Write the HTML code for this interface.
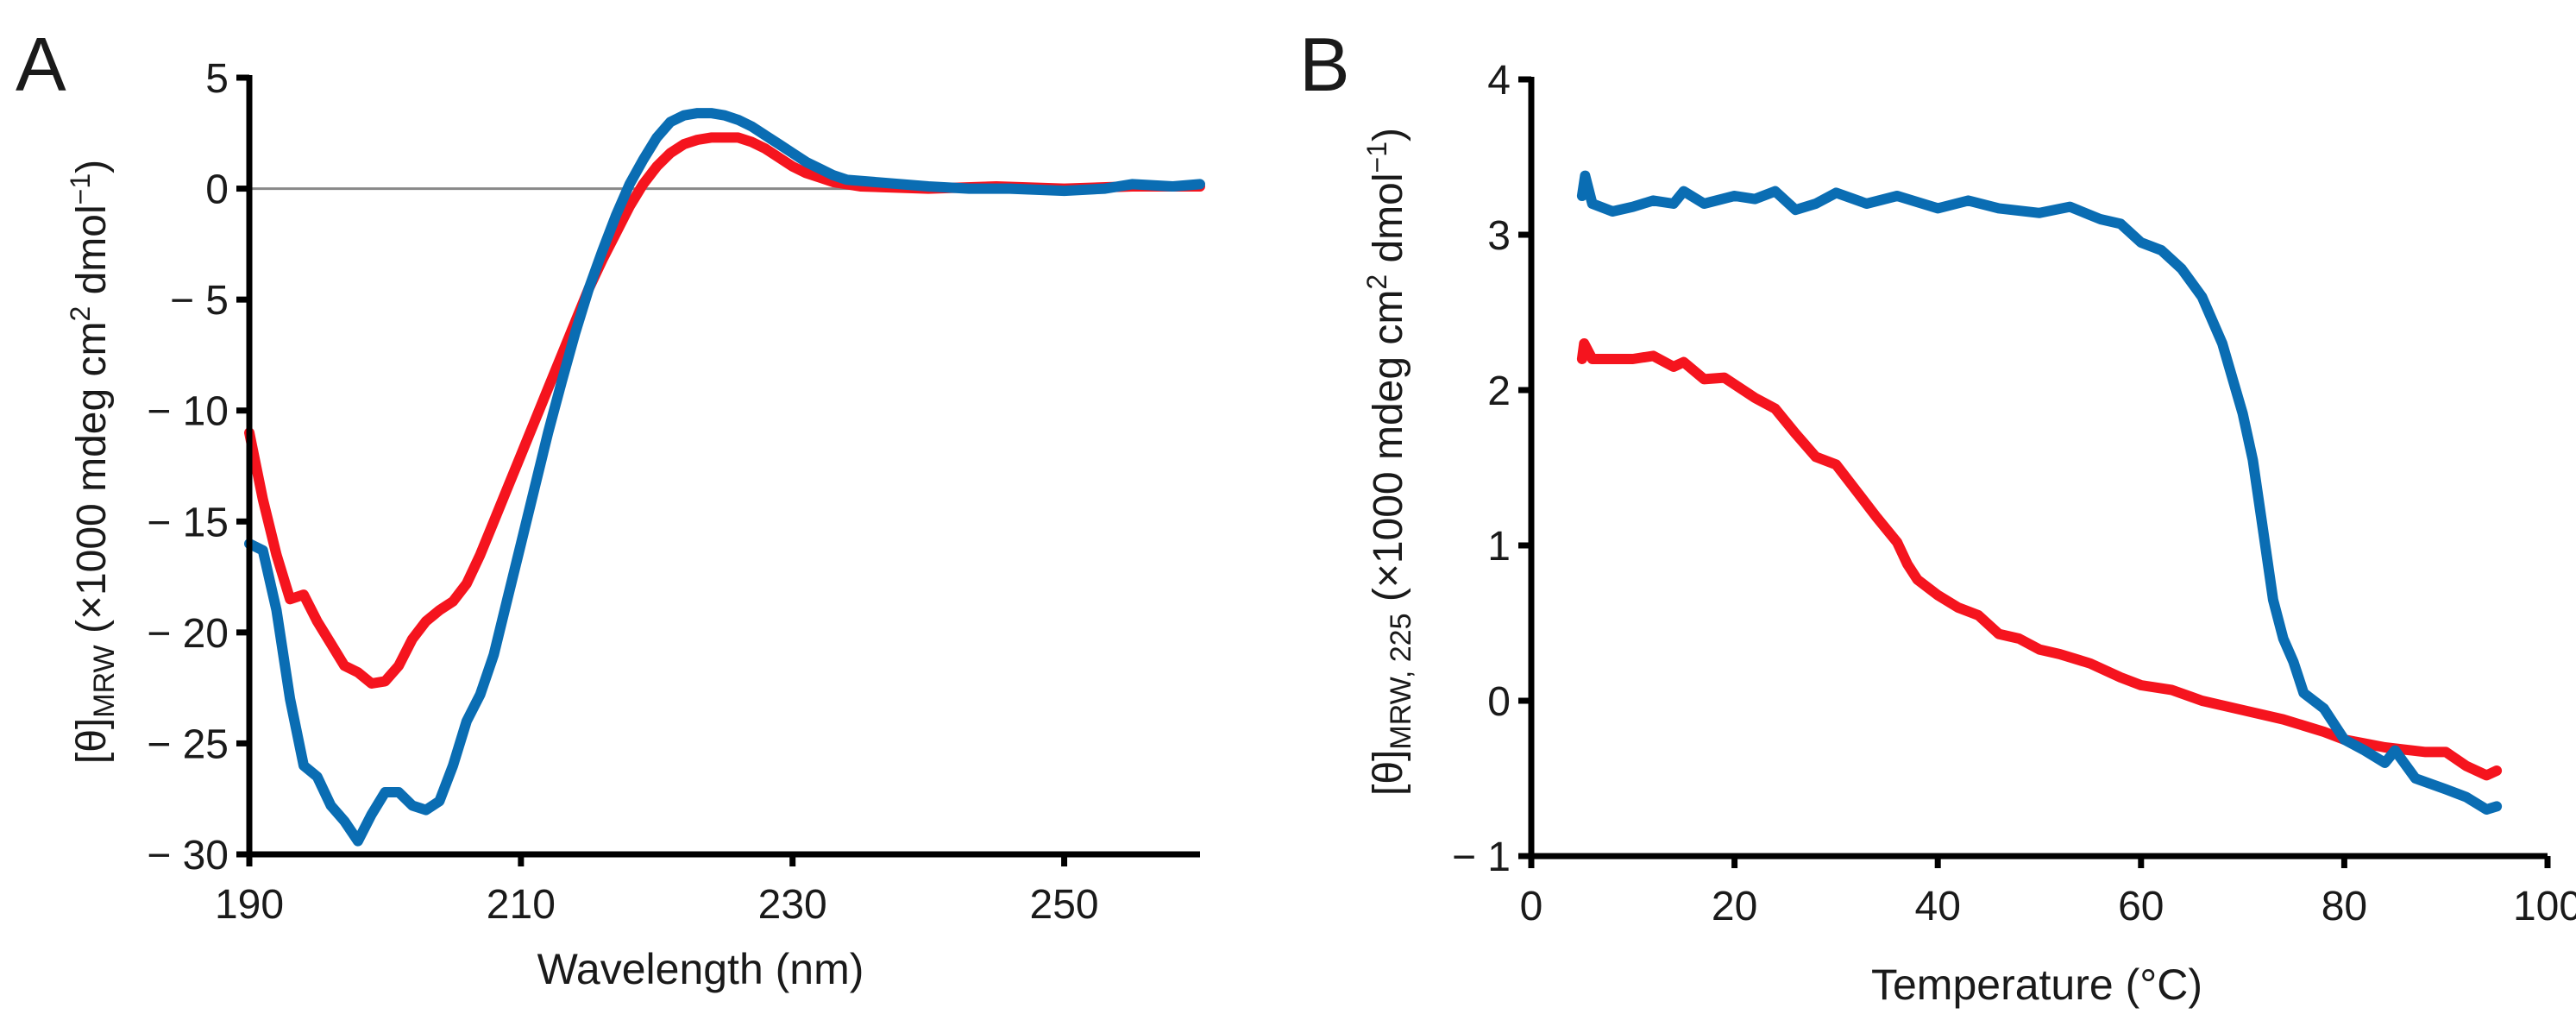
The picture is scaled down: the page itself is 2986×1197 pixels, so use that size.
<!DOCTYPE html>
<html><head><meta charset="utf-8"><style>
html,body{margin:0;padding:0;background:#fff}
svg{display:block}
text{font-family:"Liberation Sans",Arial,sans-serif;fill:#1a1a1a}
</style></head><body>
<svg id="fig" width="2986" height="1197" viewBox="0 0 2986 1197" xmlns="http://www.w3.org/2000/svg">
<text x="18" y="105" font-size="88">A</text>
<text x="1506" y="105" font-size="88">B</text>
<g id="gA"></g>
<g id="gB"></g>
</svg>
<script>
const aWave=[190,191,192,193,194,195,196,197,198,199,200,201,202,203,204,205,206,207,208,209,210,211,212,213,214,215,216,217,218,219,220,221,222,223,224,225,226,227,228,229,230,231,232,233,235,240,245,250,255,260];
const aRed=[-11,-14,-16.5,-18.5,-18.3,-19.5,-20.5,-21.5,-21.8,-22.3,-22.2,-21.5,-20.3,-19.5,-19,-18.6,-17.8,-16.5,-15,-13.5,-12,-10.5,-9,-7.5,-6,-4.5,-3.2,-2,-0.8,0.2,1,1.6,2,2.2,2.3,2.3,2.3,2.1,1.8,1.4,1.0,0.7,0.5,0.3,0.1,0,0.1,0,0.1,0.1];
const aBlueWave=[190,191,192,193,194,195,196,197,198,199,200,201,202,203,204,205,206,207,208,209,210,211,212,213,214,215,216,217,218,219,220,221,222,223,224,225,226,227,228,229,230,231,232,233,234,236,240,243,246,250,253,255,258,260];
const aBlue=[-16,-16.3,-19,-23,-26,-26.5,-27.8,-28.5,-29.4,-28.2,-27.2,-27.2,-27.8,-28,-27.6,-26,-24,-22.8,-21,-18.5,-16,-13.5,-11,-8.7,-6.5,-4.5,-2.8,-1.2,0.2,1.3,2.3,3,3.3,3.4,3.4,3.3,3.1,2.8,2.4,2,1.6,1.2,0.9,0.6,0.4,0.3,0.1,0,0,-0.1,0,0.2,0.1,0.2];
const aXTicks=[190,210,230,250];
const aYTicks=[5,0,-5,-10,-15,-20,-25,-30];
const bRedT=[5,5.2,6,10,12,14,15,17,19,22,24,26,28,30,32,34,36,37,38,40,42,44,46,48,50,52,55,58,60,63,66,70,74,78,80,84,88,90,92,94,95];
const bRed=[2.2,2.3,2.2,2.2,2.22,2.15,2.18,2.07,2.08,1.95,1.88,1.72,1.57,1.52,1.35,1.18,1.02,0.88,0.78,0.68,0.6,0.55,0.43,0.4,0.33,0.3,0.24,0.15,0.1,0.07,0,-0.06,-0.12,-0.2,-0.25,-0.3,-0.33,-0.33,-0.42,-0.48,-0.45];
const bBlueT=[5,5.3,6,8,10,12,14,15,17,20,22,24,26,28,30,33,36,40,43,46,50,53,56,58,60,62,64,66,68,70,71,72,73,74,75,76,78,79,80,82,84,85,87,90,92,94,95];
const bBlue=[3.25,3.38,3.2,3.15,3.18,3.22,3.2,3.28,3.2,3.25,3.23,3.28,3.16,3.2,3.27,3.2,3.25,3.17,3.22,3.17,3.14,3.18,3.1,3.07,2.95,2.9,2.78,2.6,2.3,1.85,1.55,1.1,0.65,0.4,0.25,0.05,-0.05,-0.15,-0.25,-0.32,-0.4,-0.32,-0.5,-0.57,-0.62,-0.7,-0.68];
const bXTicks=[0,20,40,60,80,100];
const bYTicks=[4,3,2,1,0,-1];
const NS="http://www.w3.org/2000/svg";
function mk(parent,tag,attrs,txt){const e=document.createElementNS(NS,tag);for(const k in attrs)e.setAttribute(k,attrs[k]);if(txt!==undefined)e.textContent=txt;parent.appendChild(e);return e;}
function fmt(v){return v<0?"\u2212"+Math.abs(v):String(v);}
function chart(g,cfg){
  const X=v=>cfg.x0+(v-cfg.xmin)/(cfg.xmax-cfg.xmin)*(cfg.x1-cfg.x0);
  const Y=v=>cfg.y0+(v-cfg.ymin)/(cfg.ymax-cfg.ymin)*(cfg.y1-cfg.y0);
  if(cfg.zero){const z=mk(g,'line',{x1:X(cfg.xmin),x2:X(cfg.xmax),y1:Y(0),y2:Y(0),stroke:'#888',"stroke-width":3});
    
    }
  cfg.series.forEach(s=>{
    const d=s.xs.map((x,i)=>(i?'L':'M')+X(x).toFixed(1)+','+Y(s.ys[i]).toFixed(1)).join('');
    const p=mk(g,'path',{d:d,fill:'none',stroke:s.color,"stroke-width":12,"stroke-linejoin":"round","stroke-linecap":"round"});
    
    
  });
  const ya=mk(g,'line',{x1:cfg.x0,x2:cfg.x0,y1:Y(cfg.ymax)-3,y2:Y(cfg.ymin)+3,stroke:'#000',"stroke-width":7});
  
  
  const xa=mk(g,'line',{x1:cfg.x0-15,x2:cfg.x1,y1:cfg.y0,y2:cfg.y0,stroke:'#000',"stroke-width":7});
  
  
  cfg.xt.forEach(t=>{
    mk(g,'line',{x1:X(t),x2:X(t),y1:cfg.y0,y2:cfg.y0+14,stroke:'#000',"stroke-width":7});
    const l=mk(g,'text',{x:X(t),y:cfg.y0+74,"font-size":48,"text-anchor":"middle"},fmt(t));
    
    
  });
  cfg.yt.forEach(t=>{
    mk(g,'line',{x1:cfg.x0-15,x2:cfg.x0,y1:Y(t),y2:Y(t),stroke:'#000',"stroke-width":7});
    const l=mk(g,'text',{x:cfg.x0-24,y:Y(t)+17,"font-size":48,"text-anchor":"end"},t<0?"\u2212 "+Math.abs(t):String(t));
    
    
  });
  const xt=mk(g,'text',{x:cfg.xtitle[0],y:cfg.xtitle[1],"font-size":50,"text-anchor":"middle"},cfg.xlabel);
  
  
  const yt=mk(g,'text',{x:0,y:0,"font-size":48,"text-anchor":"middle",transform:`translate(${cfg.ytitle[0]},${cfg.ytitle[1]}) rotate(-90)`});
  
  
  mk(yt,'tspan',{},'[θ]');
  mk(yt,'tspan',{"font-size":34,dy:10},cfg.sub);
  mk(yt,'tspan',{dy:-10},' (×1000 mdeg cm');
  mk(yt,'tspan',{"font-size":32,dy:-18},'2');
  mk(yt,'tspan',{dy:18},' dmol');
  mk(yt,'tspan',{"font-size":32,dy:-18},'−1');
  mk(yt,'tspan',{dy:18},')');
}
chart(document.getElementById('gA'),{x0:289,x1:1391,y0:990,y1:90,xmin:190,xmax:260,ymin:-30,ymax:5,zero:true,
  xt:aXTicks,yt:aYTicks,xlabel:'Wavelength (nm)',xtitle:[812,1140],ytitle:[122,535],sub:'MRW',
  series:[{name:'series-red',color:'#f5141e',xs:aWave,ys:aRed},{name:'series-blue',color:'#0a6db3',xs:aBlueWave,ys:aBlue}]});
chart(document.getElementById('gB'),{x0:1775,x1:2953,y0:992,y1:92,xmin:0,xmax:100,ymin:-1,ymax:4,zero:false,
  xt:bXTicks,yt:bYTicks,xlabel:'Temperature (°C)',xtitle:[2361,1158],ytitle:[1625,535],sub:'MRW, 225',
  series:[{name:'series-red',color:'#f5141e',xs:bRedT,ys:bRed},{name:'series-blue',color:'#0a6db3',xs:bBlueT,ys:bBlue}]});
</script>
</body></html>
